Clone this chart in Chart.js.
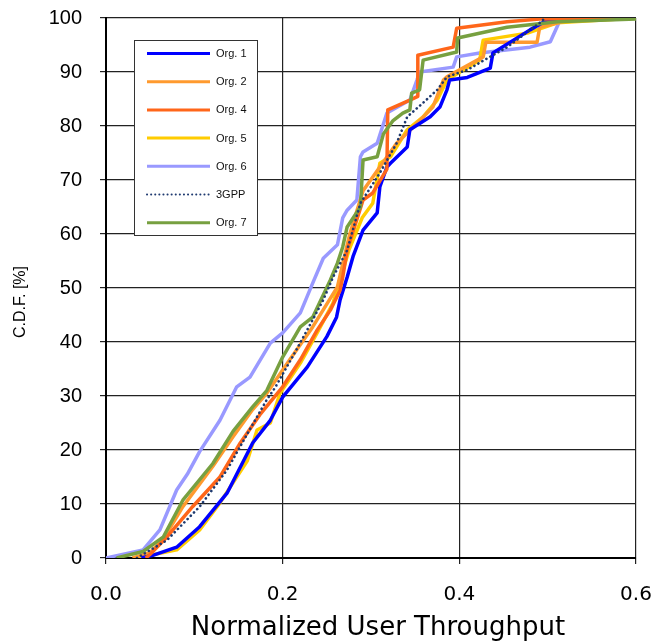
<!DOCTYPE html>
<html>
<head>
<meta charset="utf-8">
<script src="https://cdn.jsdelivr.net/npm/chart.js@4.4.1/dist/chart.umd.min.js"></script>
<style>
    html, body { margin: 0; padding: 0; background: #fff; }
    #wrap { width: 655px; height: 643px; }
</style>
</head>
<body>
<div id="wrap"><canvas id="cdfChart" width="655" height="643"></canvas></div>
<script>
// x = normalized user throughput, y = C.D.F. [%]
const org1 = [[0.04,0],[0.053,0.5],[0.08,2],[0.106,5.8],[0.137,12],[0.166,21.3],[0.186,25.5],[0.2,29.8],[0.228,35.4],[0.25,41],[0.261,44.6],[0.265,47.8],[0.273,52],[0.28,56],[0.291,60.7],[0.307,63.9],[0.31,68.7],[0.318,72.4],[0.322,73.1],[0.341,76.1],[0.344,79.3],[0.367,81.7],[0.378,83.5],[0.386,86.7],[0.389,88.5],[0.409,89],[0.435,90.7],[0.438,93.5],[0.48,97.8],[0.499,99.6],[0.52,100],[0.6,100]];
const org2 = [[0.03,0],[0.05,1],[0.065,3.5],[0.087,9.5],[0.121,17],[0.144,22.5],[0.166,27.5],[0.182,30.5],[0.208,36.7],[0.234,42.8],[0.262,50.2],[0.269,55.2],[0.276,60],[0.291,68],[0.31,72.4],[0.329,76.8],[0.348,79.8],[0.37,83.5],[0.382,88.5],[0.386,89.1],[0.427,92.8],[0.43,95.5],[0.488,95.5],[0.491,98.3],[0.52,99.5],[0.6,100]];
const org4 = [[0.045,0],[0.05,0.7],[0.069,3.9],[0.098,9.5],[0.129,15],[0.152,21.3],[0.174,26.5],[0.2,31.7],[0.22,36.7],[0.239,42.2],[0.254,45.9],[0.265,49.6],[0.268,52],[0.273,57],[0.291,66.3],[0.302,67.6],[0.318,72],[0.319,83],[0.344,84.8],[0.353,85.5],[0.353,93.1],[0.393,94.6],[0.397,98.1],[0.454,99.3],[0.491,99.8],[0.6,100]];
const org5 = [[0.035,0],[0.08,1.5],[0.106,5.2],[0.129,10.2],[0.16,18],[0.171,23.7],[0.186,25],[0.197,30.5],[0.22,36.1],[0.239,41.7],[0.257,47.2],[0.265,51.5],[0.275,57],[0.29,63],[0.302,65.7],[0.31,73.1],[0.322,74.3],[0.341,79.3],[0.359,81.7],[0.375,84.8],[0.386,88.5],[0.423,92.2],[0.427,95.9],[0.477,97.2],[0.511,99.1],[0.6,100]];
const org6 = [[0,0],[0.042,1.5],[0.061,5.2],[0.08,12.6],[0.092,15.5],[0.106,19.7],[0.129,25.5],[0.148,31.7],[0.163,33.5],[0.186,39.8],[0.2,41.7],[0.22,45.4],[0.234,50.9],[0.246,55.5],[0.262,58],[0.268,63],[0.273,64.4],[0.284,66.3],[0.288,74.3],[0.291,75.2],[0.307,76.8],[0.318,82.4],[0.344,84.8],[0.352,88.5],[0.355,90],[0.393,90.9],[0.397,92.8],[0.423,93.5],[0.48,94.6],[0.503,95.6],[0.514,99.6],[0.6,100]];
const gpp3 = [[0.035,0],[0.069,3.3],[0.106,9.5],[0.137,16.3],[0.16,23],[0.182,29.3],[0.192,31.7],[0.212,37.5],[0.232,43.5],[0.246,47.8],[0.257,52],[0.273,57],[0.288,65.7],[0.31,71.3],[0.329,76.8],[0.341,81.7],[0.359,84.3],[0.375,86.7],[0.386,89.1],[0.409,90.4],[0.454,94.6],[0.491,99.1],[0.497,100]];
const org7 = [[0.012,0],[0.042,1.2],[0.065,3.9],[0.087,10.7],[0.121,17.5],[0.144,23.5],[0.166,28],[0.182,31],[0.2,37.2],[0.22,42.8],[0.234,44.6],[0.254,51.5],[0.262,54.6],[0.268,57.6],[0.273,61.3],[0.288,65],[0.291,73.7],[0.307,74.3],[0.314,78.5],[0.325,81],[0.336,82.4],[0.344,83],[0.346,86.1],[0.355,86.7],[0.359,92.2],[0.397,93.7],[0.398,96.3],[0.454,98.3],[0.511,99.3],[0.6,99.8]];

const seriesNames = ["Org. 1", "Org. 2", "Org. 4", "Org. 5", "Org. 6", "3GPP", "Org. 7"];
const seriesData = [org1, org2, org4, org5, org6, gpp3, org7];
const seriesColors = ["#0000ff", "#ff9a2e", "#ff661a", "#ffcc00", "#9999ff", "#1f3a70", "#77a040"];
const drawOrder = [3, 4, 2, 5, 6, 0, 1]; // lower = on top

const xTicks = [0, 0.2, 0.4, 0.6];
const yTicks = [0, 10, 20, 30, 40, 50, 60, 70, 80, 90, 100];

// legend box + axis titles drawn on the canvas
const extrasPlugin = {
    id: "extras",
    afterDatasetsDraw(chart) {
        const ctx = chart.ctx;
        ctx.save();
        // legend box
        const bx = 134, by = 40, bw = 123, bh = 195;
        ctx.fillStyle = "#fff";
        ctx.fillRect(bx, by, bw, bh);
        ctx.strokeStyle = "#333";
        ctx.lineWidth = 1;
        ctx.strokeRect(bx + 0.5, by + 0.5, bw, bh);
        ctx.font = "11px 'Liberation Sans', Arial, sans-serif";
        ctx.textBaseline = "middle";
        ctx.textAlign = "left";
        seriesNames.forEach((name, i) => {
            const ly = by + 13.5 + i * 28.2;
            ctx.beginPath();
            ctx.strokeStyle = seriesColors[i];
            if (name === "3GPP") {
                ctx.lineWidth = 2;
                ctx.lineCap = "round";
                ctx.setLineDash([0.1, 4]);
            } else {
                ctx.lineWidth = 3;
                ctx.lineCap = "butt";
                ctx.setLineDash([]);
            }
            ctx.moveTo(147, ly);
            ctx.lineTo(210, ly);
            ctx.stroke();
            ctx.setLineDash([]);
            ctx.fillStyle = "#111";
            ctx.fillText(name, 216, ly + 0.5);
        });
        // y axis title
        ctx.save();
        ctx.translate(21, 302);
        ctx.rotate(-Math.PI / 2);
        ctx.textAlign = "center";
        ctx.font = "16px 'Liberation Sans', Arial, sans-serif";
        ctx.fillStyle = "#000";
        ctx.fillText("C.D.F. [%]", 0, 0);
        ctx.restore();
        // x axis title
        ctx.textAlign = "center";
        ctx.font = "26px 'DejaVu Sans', sans-serif";
        ctx.fillStyle = "#000";
        ctx.fillText("Normalized User Throughput", 378, 628);
        ctx.restore();
    }
};

const ctx = document.getElementById("cdfChart").getContext("2d");
new Chart(ctx, {
    type: "line",
    data: {
        datasets: seriesNames.map((name, i) => ({
            label: name,
            data: seriesData[i].map((p) => ({ x: p[0], y: p[1] })),
            borderColor: seriesColors[i],
            borderWidth: name === "3GPP" ? 2.6 : 3.5,
            borderDash: name === "3GPP" ? [0.1, 4.5] : [],
            borderCapStyle: name === "3GPP" ? "round" : "butt",
            borderJoinStyle: "round",
            pointRadius: 0,
            tension: 0,
            fill: false,
            order: drawOrder[i],
        })),
    },
    options: {
        responsive: false,
        animation: false,
        layout: { padding: { left: 0, right: 19, top: 18, bottom: 0 } },
        plugins: {
            legend: { display: false },
            tooltip: { enabled: false },
        },
        scales: {
            x: {
                type: "linear",
                min: 0,
                max: 0.6,
                afterFit: (scale) => {
                    scale.height = 85;
                    scale.paddingLeft = 0;
                    scale.paddingRight = 0;
                },
                afterBuildTicks: (scale) => { scale.ticks = xTicks.map((v) => ({ value: v })); },
                ticks: {
                    padding: 19,
                    color: "#000",
                    font: { family: "'DejaVu Sans', sans-serif", size: 20 },
                    callback: (v) => Number(v).toFixed(1),
                },
                grid: { color: "#222", lineWidth: 1.2, tickLength: 6 },
                border: { color: "#000", width: 2 },
            },
            y: {
                min: 0,
                max: 100,
                afterFit: (scale) => {
                    scale.width = 106;
                    scale.paddingTop = 0;
                    scale.paddingBottom = 0;
                },
                afterBuildTicks: (scale) => { scale.ticks = yTicks.map((v) => ({ value: v })); },
                ticks: {
                    padding: 18,
                    color: "#000",
                    font: { family: "'Liberation Sans', Arial, sans-serif", size: 20 },
                },
                grid: { color: "#222", lineWidth: 1.2, tickLength: 6 },
                border: { color: "#000", width: 2 },
            },
        },
    },
    plugins: [extrasPlugin],
});
</script>
</body>
</html>
